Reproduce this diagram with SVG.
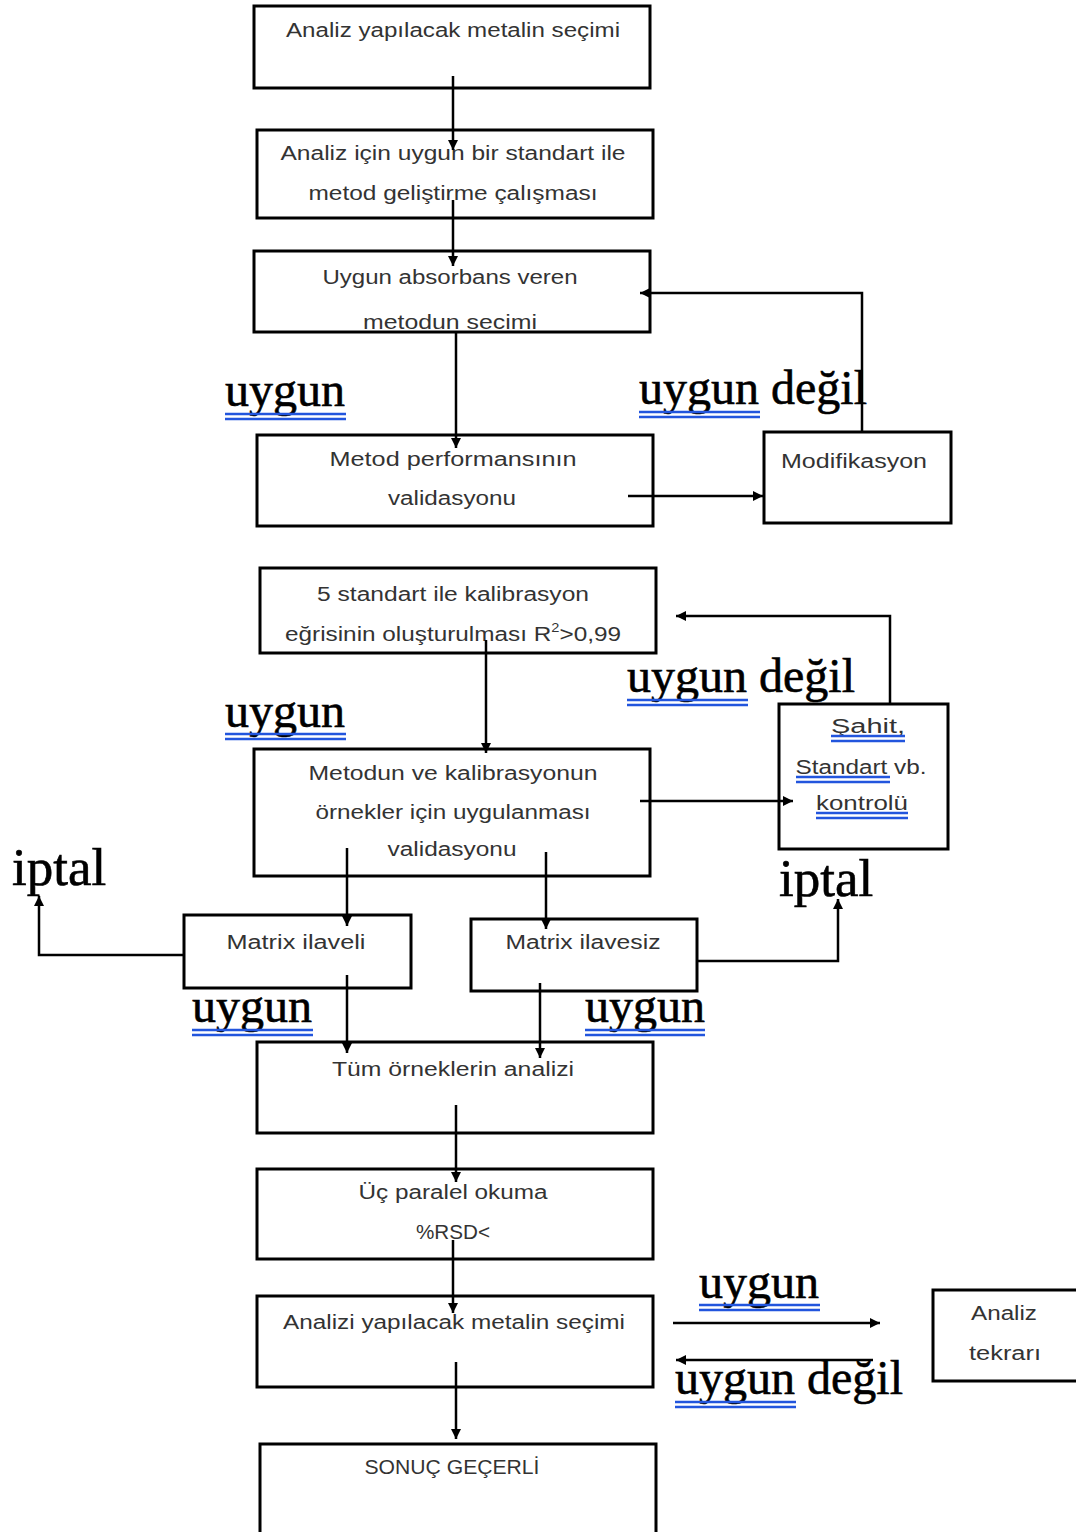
<svg xmlns="http://www.w3.org/2000/svg" width="1076" height="1532" viewBox="0 0 1076 1532">
<style>
.box{fill:#fff;stroke:#000;stroke-width:3}
.t{font-family:"Liberation Sans",Arial,sans-serif;font-size:20px;fill:#333;text-anchor:middle}
.lbl{font-family:"Liberation Serif","Times New Roman",serif;font-size:48px;fill:#000;stroke:#000;stroke-width:0.6}
.ip{font-family:"Liberation Serif","Times New Roman",serif;font-size:53px;fill:#000;stroke:#000;stroke-width:0.6}
.ul{stroke:#2255dd;stroke-width:2.5}
.c{fill:none;stroke:#000;stroke-width:2.5}
</style>
<defs>
<marker id="a" markerUnits="userSpaceOnUse" markerWidth="12" markerHeight="12" refX="10" refY="5" orient="auto">
<path d="M0,0 L10,5 L0,10 Z" fill="#000"/>
</marker>
<clipPath id="clip3"><rect x="254" y="251" width="396" height="78"/></clipPath>
</defs>
<rect width="1076" height="1532" fill="#fff"/>

<g id="n1"><rect class="box" x="254" y="6" width="396" height="82"/>
<text class="t" x="453" y="37" textLength="334" lengthAdjust="spacingAndGlyphs">Analiz yapılacak metalin seçimi</text></g>

<g id="n2"><rect class="box" x="257" y="130" width="396" height="88"/>
<text class="t" x="453" y="160" textLength="345" lengthAdjust="spacingAndGlyphs">Analiz için uygun bir standart ile</text>
<text class="t" x="453" y="200" textLength="289" lengthAdjust="spacingAndGlyphs">metod geliştirme çalışması</text></g>

<g id="n3"><rect class="box" x="254" y="251" width="396" height="81"/>
<text class="t" x="450" y="284" textLength="255" lengthAdjust="spacingAndGlyphs">Uygun absorbans veren</text>
<g clip-path="url(#clip3)"><text class="t" x="450" y="329" textLength="174" lengthAdjust="spacingAndGlyphs">metodun seçimi</text></g></g>

<g id="n4"><rect class="box" x="257" y="435" width="396" height="91"/>
<text class="t" x="453" y="466" textLength="247" lengthAdjust="spacingAndGlyphs">Metod performansının</text>
<text class="t" x="452" y="505" textLength="128" lengthAdjust="spacingAndGlyphs">validasyonu</text></g>

<g id="n5"><rect class="box" x="764" y="432" width="187" height="91"/>
<text class="t" x="854" y="468" textLength="146" lengthAdjust="spacingAndGlyphs">Modifikasyon</text></g>

<g id="n6"><rect class="box" x="260" y="568" width="396" height="85"/>
<text class="t" x="453" y="601" textLength="272" lengthAdjust="spacingAndGlyphs">5 standart ile kalibrasyon</text>
<text class="t" x="453" y="641" textLength="336" lengthAdjust="spacingAndGlyphs">eğrisinin oluşturulması R<tspan font-size="12" dy="-9">2</tspan><tspan dy="9">&gt;0,99</tspan></text></g>

<g id="n7"><rect class="box" x="254" y="749" width="396" height="127"/>
<text class="t" x="453" y="780" textLength="289" lengthAdjust="spacingAndGlyphs">Metodun ve kalibrasyonun</text>
<text class="t" x="453" y="819" textLength="275" lengthAdjust="spacingAndGlyphs">örnekler için uygulanması</text>
<text class="t" x="452" y="856" textLength="129" lengthAdjust="spacingAndGlyphs">validasyonu</text></g>

<g id="n8"><rect class="box" x="779" y="704" width="169" height="145"/>
<text class="t" x="868" y="733" textLength="74" lengthAdjust="spacingAndGlyphs">Şahit,</text>
<text class="t" x="861" y="774" textLength="131" lengthAdjust="spacingAndGlyphs">Standart vb.</text>
<text class="t" x="862" y="810" textLength="92" lengthAdjust="spacingAndGlyphs">kontrolü</text>
<line class="ul" x1="831" y1="736" x2="905" y2="736"/><line class="ul" x1="831" y1="741" x2="905" y2="741"/>
<line class="ul" x1="796" y1="777" x2="890" y2="777"/><line class="ul" x1="796" y1="782" x2="890" y2="782"/>
<line class="ul" x1="816" y1="813" x2="908" y2="813"/><line class="ul" x1="816" y1="818" x2="908" y2="818"/></g>

<g id="n9"><rect class="box" x="184" y="915" width="227" height="73"/>
<text class="t" x="296" y="949" textLength="139" lengthAdjust="spacingAndGlyphs">Matrix ilaveli</text></g>

<g id="n10"><rect class="box" x="471" y="919" width="226" height="72"/>
<text class="t" x="583" y="949" textLength="155" lengthAdjust="spacingAndGlyphs">Matrix ilavesiz</text></g>

<g id="n11"><rect class="box" x="257" y="1042" width="396" height="91"/>
<text class="t" x="453" y="1076" textLength="242" lengthAdjust="spacingAndGlyphs">Tüm örneklerin analizi</text></g>

<g id="n12"><rect class="box" x="257" y="1169" width="396" height="90"/>
<text class="t" x="453" y="1199" textLength="189" lengthAdjust="spacingAndGlyphs">Üç paralel okuma</text>
<text class="t" x="453" y="1239" textLength="74" lengthAdjust="spacingAndGlyphs">%RSD&lt;</text></g>

<g id="n13"><rect class="box" x="257" y="1296" width="396" height="91"/>
<text class="t" x="454" y="1329" textLength="342" lengthAdjust="spacingAndGlyphs">Analizi yapılacak metalin seçimi</text></g>

<g id="n14"><path class="box" d="M260,1540 V1444 H656 V1540"/>
<text class="t" x="452" y="1474" textLength="175" lengthAdjust="spacingAndGlyphs">SONUÇ GEÇERLİ</text></g>

<g id="n15"><rect class="box" x="933" y="1290" width="160" height="91"/>
<text class="t" x="1004" y="1320" textLength="66" lengthAdjust="spacingAndGlyphs">Analiz</text>
<text class="t" x="1005" y="1360" textLength="72" lengthAdjust="spacingAndGlyphs">tekrarı</text></g>

<g id="connectors">
<line class="c" x1="453" y1="76" x2="453" y2="150" marker-end="url(#a)"/>
<line class="c" x1="453" y1="200" x2="453" y2="266" marker-end="url(#a)"/>
<line class="c" x1="456" y1="332" x2="456" y2="448" marker-end="url(#a)"/>
<polyline class="c" points="862,432 862,293 640,293" marker-end="url(#a)"/>
<line class="c" x1="628" y1="496" x2="763" y2="496" marker-end="url(#a)"/>
<line class="c" x1="486" y1="640" x2="486" y2="753" marker-end="url(#a)"/>
<polyline class="c" points="890,704 890,616 676,616" marker-end="url(#a)"/>
<line class="c" x1="640" y1="801" x2="793" y2="801" marker-end="url(#a)"/>
<line class="c" x1="347" y1="848" x2="347" y2="926" marker-end="url(#a)"/>
<line class="c" x1="546" y1="852" x2="546" y2="929" marker-end="url(#a)"/>
<polyline class="c" points="184,955 39,955 39,896" marker-end="url(#a)"/>
<polyline class="c" points="697,961 838,961 838,899" marker-end="url(#a)"/>
<line class="c" x1="347" y1="975" x2="347" y2="1053" marker-end="url(#a)"/>
<line class="c" x1="540" y1="983" x2="540" y2="1058" marker-end="url(#a)"/>
<line class="c" x1="456" y1="1105" x2="456" y2="1182" marker-end="url(#a)"/>
<line class="c" x1="453" y1="1240" x2="453" y2="1313" marker-end="url(#a)"/>
<line class="c" x1="456" y1="1362" x2="456" y2="1439" marker-end="url(#a)"/>
<line class="c" x1="673" y1="1323" x2="880" y2="1323" marker-end="url(#a)"/>
<line class="c" x1="873" y1="1360" x2="676" y2="1360" marker-end="url(#a)"/>
</g>

<g id="labels">
<text class="lbl" x="225" y="406">uygun</text>
<line class="ul" x1="225" y1="414" x2="346" y2="414"/><line class="ul" x1="225" y1="419" x2="346" y2="419"/>
<text class="lbl" x="639" y="404">uygun değil</text>
<line class="ul" x1="639" y1="412" x2="760" y2="412"/><line class="ul" x1="639" y1="417" x2="760" y2="417"/>
<text class="lbl" x="627" y="692">uygun değil</text>
<line class="ul" x1="627" y1="700" x2="748" y2="700"/><line class="ul" x1="627" y1="705" x2="748" y2="705"/>
<text class="lbl" x="225" y="727">uygun</text>
<line class="ul" x1="225" y1="734" x2="346" y2="734"/><line class="ul" x1="225" y1="739" x2="346" y2="739"/>
<text class="ip" x="12" y="885">iptal</text>
<text class="ip" x="779" y="896">iptal</text>
<text class="lbl" x="192" y="1022">uygun</text>
<line class="ul" x1="192" y1="1030" x2="313" y2="1030"/><line class="ul" x1="192" y1="1035" x2="313" y2="1035"/>
<text class="lbl" x="585" y="1022">uygun</text>
<line class="ul" x1="585" y1="1030" x2="705" y2="1030"/><line class="ul" x1="585" y1="1035" x2="705" y2="1035"/>
<text class="lbl" x="699" y="1298">uygun</text>
<line class="ul" x1="699" y1="1305" x2="820" y2="1305"/><line class="ul" x1="699" y1="1310" x2="820" y2="1310"/>
<text class="lbl" x="675" y="1394">uygun değil</text>
<line class="ul" x1="675" y1="1402" x2="796" y2="1402"/><line class="ul" x1="675" y1="1407" x2="796" y2="1407"/>
</g>
</svg>
